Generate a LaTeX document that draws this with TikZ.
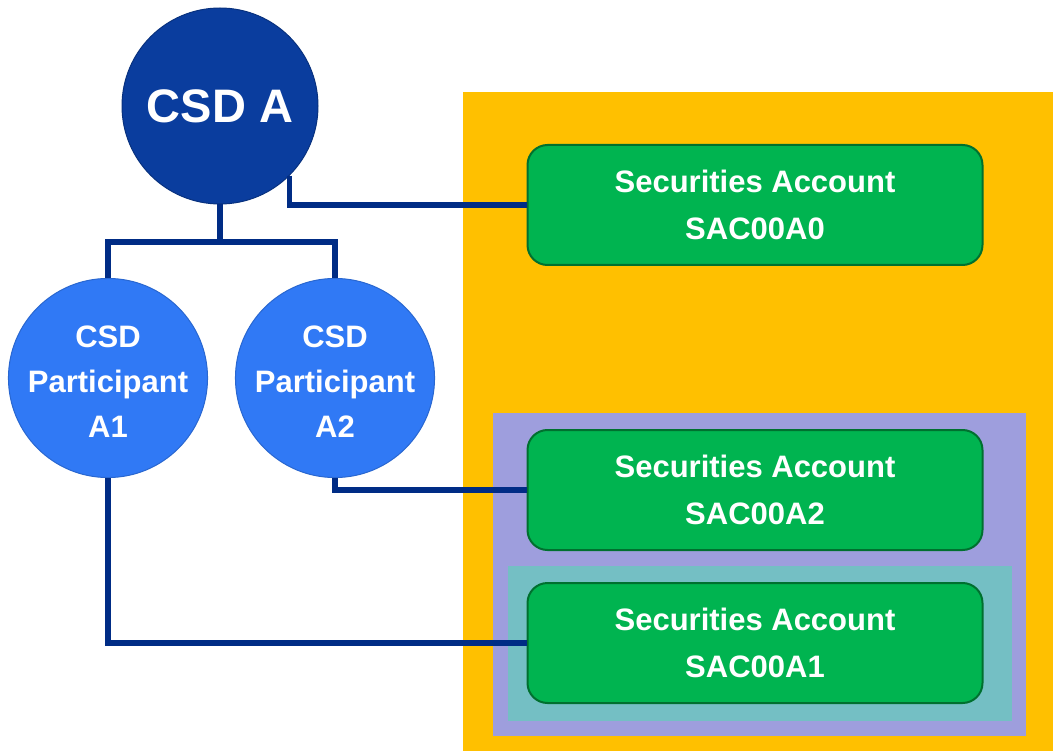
\documentclass[tikz,border=0pt]{standalone}
\usepackage{fontspec}
\setmainfont{Liberation Sans}
\usepackage{tikz}

\definecolor{csdblue}{HTML}{0A3D9E}
\definecolor{partblue}{HTML}{3079F5}
\definecolor{linkblue}{HTML}{002C85}
\definecolor{zoneorange}{HTML}{FFC000}
\definecolor{zonepurple}{HTML}{9E9EDD}
\definecolor{zoneteal}{HTML}{74BFC4}
\definecolor{accgreen}{HTML}{00B450}
\definecolor{accdark}{HTML}{00702F}

\tikzset{
  csd/.style={circle, fill=csdblue, draw=csdblue!80!black, line width=1pt, minimum size=196pt, inner sep=0pt, text=white, font=\bfseries\fontsize{47}{50}\selectfont},
  participant/.style={circle, fill=partblue, draw=partblue!85!black, line width=1pt, minimum size=196pt, inner sep=0pt, text=white, align=center, text height=118pt, text depth=-20pt, font=\bfseries\fontsize{31}{45}\selectfont},
  account/.style={rectangle, rounded corners=20pt, fill=accgreen, draw=accdark, line width=2pt, minimum width=455pt, minimum height=120pt, text=white, align=center, font=\bfseries\fontsize{31}{47}\selectfont},
  link/.style={draw=linkblue, line width=5.5pt}
}

\begin{document}
\begin{tikzpicture}[x=1pt, y=-1pt, node distance=227pt]
\useasboundingbox (0,0) rectangle (1057,751);
% zones
\fill[zoneorange] (463,92) rectangle (1053,751);
\fill[zonepurple] (493,413) rectangle (1026,736);
\fill[zoneteal] (508,566) rectangle (1012,721);
% nodes
\node[csd] (csdA) at (220,106) {CSD A};
\node[participant] (partA1) at (108,378) {CSD\\Participant\\A1};
\node[participant] (partA2) [right of = partA1] {CSD\\Participant\\A2};
\node[account] (sac0) at (755,205) {Securities Account\\SAC00A0};
\node[account] (sac2) at (755,490) {Securities Account\\SAC00A2};
\node[account] (sac1) at (755,643) {Securities Account\\SAC00A1};
\coordinate (fork) at (220,242);
% links
\draw[link] (csdA.south) -- (fork);
\draw[link] (partA1.north) |- (fork) -| (partA2.north);
\draw[link] (csdA.-45) |- (sac0.west);
\draw[link] (partA2.south) |- (sac2.west);
\draw[link] (partA1.south) |- (sac1.west);
\end{tikzpicture}
\end{document}
